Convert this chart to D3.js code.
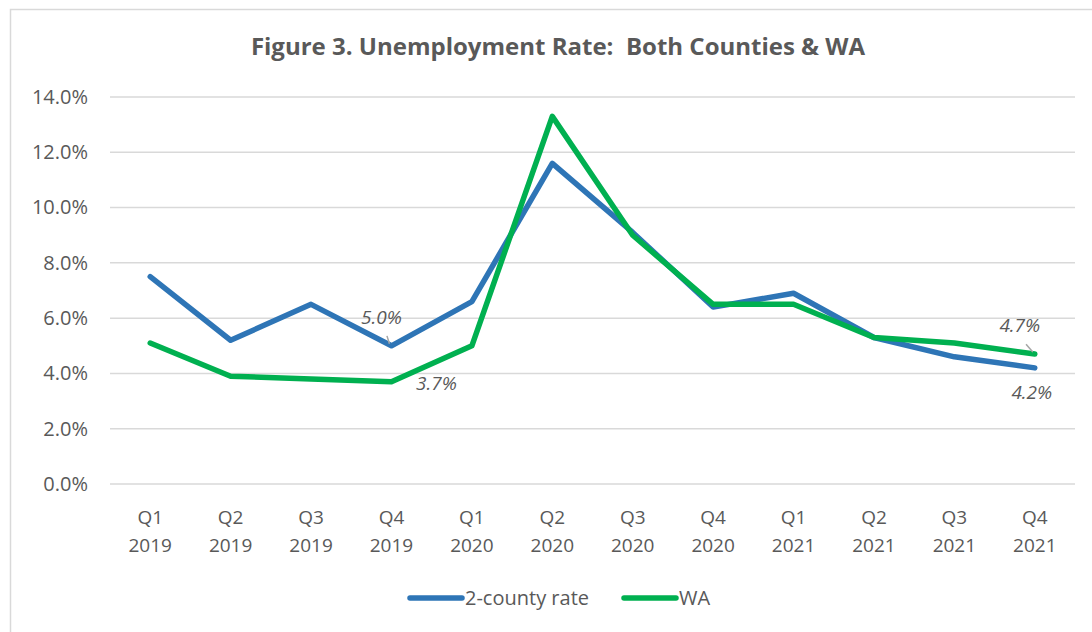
<!DOCTYPE html>
<html>
<head>
<meta charset="utf-8">
<script src="https://cdn.jsdelivr.net/npm/d3@7"></script>
<style>
  html, body { margin: 0; padding: 0; background: #fff; }
  svg text { font-family: "Open Sans", "Noto Sans", sans-serif; fill: #595959; }
</style>
</head>
<body>
<svg id="chart" width="1092" height="632"></svg>
<script>
// Quarterly unemployment rate (%)
const quarters = ["Q1 2019", "Q2 2019", "Q3 2019", "Q4 2019", "Q1 2020", "Q2 2020",
                  "Q3 2020", "Q4 2020", "Q1 2021", "Q2 2021", "Q3 2021", "Q4 2021"];
const countyRate = [7.5, 5.2, 6.5, 5.0, 6.6, 11.6, 9.1, 6.4, 6.9, 5.3, 4.6, 4.2];
const waRate     = [5.1, 3.9, 3.8, 3.7, 5.0, 13.3, 9.0, 6.5, 6.5, 5.3, 5.1, 4.7];
const yTicks = [0, 2, 4, 6, 8, 10, 12, 14];
const seriesNames = ["2-county rate", "WA"];
const seriesColors = ["#2E75B6", "#00B050"];

const svg = d3.select("#chart");

// outer chart frame
svg.append("rect")
  .attr("x", 10.5).attr("y", 9.5)
  .attr("width", 1200).attr("height", 800)
  .attr("fill", "none").attr("stroke", "#D9D9D9").attr("stroke-width", 1.5);

const plot = { left: 110, right: 1075, top: 97, bottom: 484 };

const x = d3.scaleBand().domain(quarters).range([plot.left, plot.right]);
const y = d3.scaleLinear().domain([0, 14]).range([plot.bottom, plot.top]);
const cx = q => x(q) + x.bandwidth() / 2;

// title
svg.append("text")
  .attr("x", 558).attr("y", 55)
  .attr("text-anchor", "middle")
  .attr("xml:space", "preserve")
  .style("white-space", "pre")
  .style("font-size", "24px").style("font-weight", "bold")
  .text("Figure 3. Unemployment Rate:  Both Counties & WA");

// gridlines
svg.append("g").selectAll("line").data(yTicks).join("line")
  .attr("x1", plot.left).attr("x2", plot.right)
  .attr("y1", d => y(d)).attr("y2", d => y(d))
  .attr("stroke", "#D9D9D9").attr("stroke-width", 1.5);

// y axis labels
const yAxis = d3.axisLeft(y).tickValues(yTicks).tickSize(0).tickPadding(22)
  .tickFormat(d => d.toFixed(1) + "%");
const gy = svg.append("g").attr("transform", `translate(${plot.left},0)`).call(yAxis);
gy.select(".domain").remove();
gy.selectAll("text").style("font-size", "20px").attr("fill", "#595959");

// x axis labels (two lines)
const gx = svg.append("g").attr("transform", `translate(0,${plot.bottom})`)
  .call(d3.axisBottom(x).tickSize(0).tickFormat(""));
gx.select(".domain").remove();
gx.selectAll(".tick").each(function(d) {
  const parts = d.split(" ");
  const t = d3.select(this).append("text")
    .attr("text-anchor", "middle").style("font-size", "19px").attr("fill", "#595959");
  t.append("tspan").attr("x", 0).attr("y", 40).text(parts[0]);
  t.append("tspan").attr("x", 0).attr("y", 68).text(parts[1]);
});

// lines
const line = d3.line().x((d, i) => cx(quarters[i])).y(d => y(d));
[countyRate, waRate].forEach((vals, k) => {
  svg.append("path").datum(vals)
    .attr("d", line)
    .attr("fill", "none")
    .attr("stroke", seriesColors[k])
    .attr("stroke-width", 5.5)
    .attr("stroke-linejoin", "round")
    .attr("stroke-linecap", "round");
});

// data labels
const labels = [
  { vals: countyRate, i: 3, dx: -10, dy: -22, leader: true },
  { vals: waRate, i: 3, dx: 45, dy: 8, leader: false },
  { vals: waRate, i: 11, dx: -15, dy: -22, leader: true },
  { vals: countyRate, i: 11, dx: -3, dy: 31, leader: false }
];
labels.forEach(l => {
  const px = cx(quarters[l.i]), py = y(l.vals[l.i]);
  if (l.leader) {
    svg.append("line")
      .attr("x1", px - 2).attr("y1", py - 2)
      .attr("x2", px + l.dx * 0.85 + 4).attr("y2", py + l.dy * 0.45)
      .attr("stroke", "#A6A6A6").attr("stroke-width", 1.5);
  }
  svg.append("text")
    .attr("x", px + l.dx).attr("y", py + l.dy)
    .attr("text-anchor", "middle")
    .style("font-size", "19px").style("font-style", "italic")
    .attr("fill", "#404040")
    .text(l.vals[l.i].toFixed(1) + "%");
});

// legend
const legend = svg.append("g").attr("transform", "translate(408,598)");
const legendX = [0, 214];
seriesNames.forEach((name, k) => {
  const g = legend.append("g").attr("transform", `translate(${legendX[k]},0)`);
  g.append("line").attr("x1", 2).attr("x2", 54).attr("y1", 0).attr("y2", 0)
    .attr("stroke", seriesColors[k]).attr("stroke-width", 5.5).attr("stroke-linecap", "round");
  g.append("text").attr("x", 57).attr("y", 7).style("font-size", "20px").text(name);
});
</script>
</body>
</html>
